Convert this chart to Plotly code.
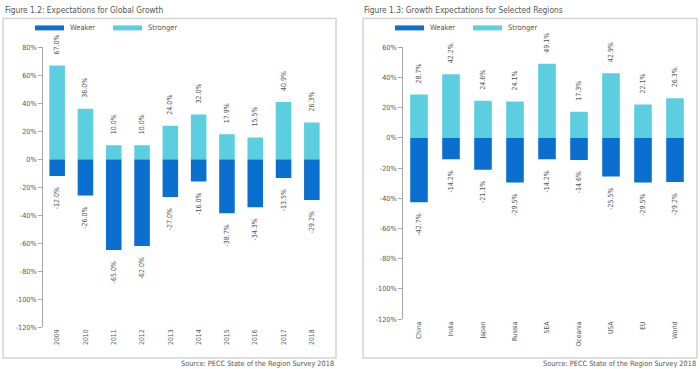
import plotly.graph_objects as go

# ---------------- data ----------------
years = ["2009", "2010", "2011", "2012", "2013", "2014", "2015", "2016", "2017", "2018"]
global_weaker = [-12.0, -26.0, -65.0, -62.0, -27.0, -16.0, -38.7, -34.3, -13.5, -29.2]
global_stronger = [67.0, 36.0, 10.0, 10.0, 24.0, 32.0, 17.9, 15.5, 40.9, 26.3]

regions = ["China", "India", "Japan", "Russia", "SEA", "Oceania", "USA", "EU", "World"]
region_weaker = [-42.7, -14.2, -21.1, -29.5, -14.2, -14.6, -25.5, -29.5, -29.2]
region_stronger = [28.7, 42.2, 24.6, 24.1, 49.1, 17.3, 42.9, 22.1, 26.3]

left_ticks = [80, 60, 40, 20, 0, -20, -40, -60, -80, -100, -120]
right_ticks = [60, 40, 20, 0, -20, -40, -60, -80, -100, -120]

series_names = ["Weaker", "Stronger"]
left_title = "Figure 1.2: Expectations for Global Growth"
right_title = "Figure 1.3: Growth Expectations for Selected Regions"
source_text = "Source: PECC State of the Region Survey 2018"

# ---------------- style ----------------
W, H = 700, 369
DARK = "#0b6fcf"
LIGHT = "#5bcfe0"
TXT = "#555555"
AX = "#a8a8a8"
FONT = "DejaVu Sans Condensed"
PAD = "\u00a0" * 4
VS, VO = 0.98, 1.5   # observed vertical scale/offset of the rendered page


def px_x(p):
    return p / W


def px_y(p):
    return 1 - ((p - VO) / VS) / H


fig = go.Figure()


def add_pair(cats, weak, strong, xa, ya):
    for name, vals, col, tmpl in ((series_names[0], weak, DARK, "%{y:.1f}%" + PAD),
                                  (series_names[1], strong, LIGHT, PAD + "%{y:.1f}%")):
        fig.add_trace(go.Bar(
            x=cats, y=vals, name=name, marker=dict(color=col, line=dict(width=0)),
            xaxis=xa, yaxis=ya, showlegend=False,
            texttemplate=tmpl, textposition="outside", textangle=-90,
            constraintext="none",
            textfont=dict(size=7, color=TXT, family=FONT), cliponaxis=False,
        ))


add_pair(years, global_weaker, global_stronger, "x", "y")
add_pair(regions, region_weaker, region_stronger, "x2", "y2")

# plot area geometry (pixels)
L = dict(x0=43, x1=326, ytop=45, ybot=326, rng=[-120, 80])
R = dict(x0=403, x1=691, ytop=45, ybot=318, rng=[-120, 60])


def yaxis_cfg(g, anchor, ticks):
    return dict(
        domain=[px_y(g["ybot"]), px_y(g["ytop"])], range=g["rng"], anchor=anchor,
        tickmode="array", tickvals=ticks, ticktext=[f"{t}%" for t in ticks],
        showgrid=False, zeroline=False,
        showline=True, linecolor=AX, linewidth=1, ticks="outside", ticklen=4,
        tickcolor=AX, tickfont=dict(size=7.2, color=TXT, family=FONT), fixedrange=True,
    )


def xaxis_cfg(g, anchor):
    return dict(
        domain=[px_x(g["x0"]), px_x(g["x1"])], anchor=anchor, type="category",
        showgrid=False, zeroline=False, showline=False, ticks="",
        tickangle=-90, tickfont=dict(size=6.8, color=TXT, family=FONT), fixedrange=True,
    )


def zero_axis_cfg(g, n, overlay):
    zero_frac = px_y(g["ytop"]) - (px_y(g["ytop"]) - px_y(g["ybot"])) * (g["rng"][1] / (g["rng"][1] - g["rng"][0]))
    return dict(
        domain=[px_x(g["x0"]), px_x(g["x1"])], overlaying=overlay, anchor="free",
        position=zero_frac, range=[-0.5, n - 0.5], tickvals=[i - 0.5 for i in range(n + 1)],
        showticklabels=False, showline=True, linecolor=AX, linewidth=1,
        ticks="outside", ticklen=3, tickcolor=AX, showgrid=False, zeroline=False,
        fixedrange=True,
    )


fig.update_layout(
    width=W, height=H, margin=dict(l=0, r=0, t=0, b=0),
    paper_bgcolor="white", plot_bgcolor="rgba(0,0,0,0)",
    barmode="relative", bargap=0.45,
    font=dict(family=FONT, color=TXT, size=8),
    xaxis=xaxis_cfg(L, "y"), yaxis=yaxis_cfg(L, "x", left_ticks),
    xaxis2=xaxis_cfg(R, "y2"), yaxis2=yaxis_cfg(R, "x2", right_ticks),
    xaxis3=zero_axis_cfg(L, len(years), "x"),
    xaxis4=zero_axis_cfg(R, len(regions), "x2"),
    showlegend=False,
)

shapes = []
annotations = []

# panel boxes
for x0, x1 in ((3, 336), (363, 697)):
    shapes.append(dict(type="rect", xref="paper", yref="paper",
                       x0=px_x(x0), x1=px_x(x1), y0=px_y(357), y1=px_y(16),
                       line=dict(color="#d4d4d4", width=1.5), fillcolor="rgba(0,0,0,0)", layer="below"))

# titles
for x, t in ((3, left_title), (362, right_title)):
    annotations.append(dict(text=t, x=px_x(x), y=px_y(8), xref="paper", yref="paper",
                            xanchor="left", yanchor="middle", showarrow=False,
                            font=dict(size=8.3, color=TXT, family=FONT)))
# sources
for x in (336, 698):
    annotations.append(dict(text=source_text, x=px_x(x), y=px_y(363), xref="paper", yref="paper",
                            xanchor="right", yanchor="middle", showarrow=False,
                            font=dict(size=7.3, color=TXT, family=FONT)))

# legends
for base in (35, 395):
    for i, (name, col) in enumerate(zip(series_names, (DARK, LIGHT))):
        sx = base + i * 78
        shapes.append(dict(type="rect", xref="paper", yref="paper",
                           x0=px_x(sx), x1=px_x(sx + 29), y0=px_y(28), y1=px_y(23),
                           fillcolor=col, line=dict(width=0)))
        annotations.append(dict(text=name, x=px_x(sx + 33), y=px_y(25), xref="paper", yref="paper",
                                xanchor="left", yanchor="middle", showarrow=False,
                                font=dict(size=7.5, color=TXT, family=FONT)))

fig.update_layout(shapes=shapes, annotations=annotations)
fig.write_html("out.html", config={"displayModeBar": False},
               post_script="document.body.style.margin='0';")
